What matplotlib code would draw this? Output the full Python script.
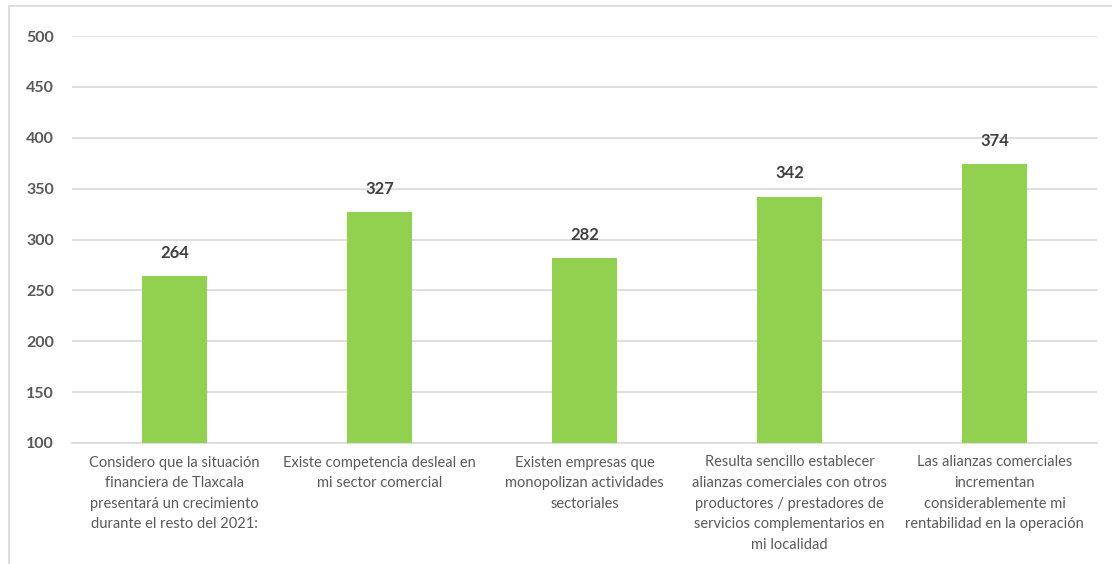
import matplotlib.pyplot as plt
from matplotlib.patches import Rectangle

categories = [
    "Considero que la situación\nfinanciera de Tlaxcala\npresentará un crecimiento\ndurante el resto del 2021:",
    "Existe competencia desleal en\nmi sector comercial",
    "Existen empresas que\nmonopolizan actividades\nsectoriales",
    "Resulta sencillo establecer\nalianzas comerciales con otros\nproductores / prestadores de\nservicios complementarios en\nmi localidad",
    "Las alianzas comerciales\nincrementan\nconsiderablemente mi\nrentabilidad en la operación",
]
values = [264, 327, 282, 342, 374]
yticks = [100, 150, 200, 250, 300, 350, 400, 450, 500]

plt.rcParams['font.family'] = ['Lato', 'DejaVu Sans']

fig = plt.figure(figsize=(11.12, 5.64), dpi=100)
ax = fig.add_axes([72 / 1112, 1 - 443 / 564, (1097 - 72) / 1112, (443 - 36) / 564])

x = range(len(values))
ax.bar(x, values, width=0.32, color='#92D050', zorder=3)
for i, v in zip(x, values):
    ax.annotate(str(v), (i, v), xytext=(0, 11), textcoords='offset points',
                ha='center', va='bottom', fontsize=12, fontweight='bold', color='#404040')

ax.set_ylim(100, 500)
ax.set_xlim(-0.5, len(values) - 0.5)
ax.set_yticks(yticks)
ax.set_yticklabels([str(t) for t in yticks], fontsize=11.5, fontweight='bold', color='#595959')
ax.set_xticks(list(x))
ax.set_xticklabels(categories, fontsize=10.5, color='#595959', linespacing=1.6, va='top')
ax.tick_params(axis='both', length=0)
ax.tick_params(axis='y', pad=13)
ax.tick_params(axis='x', pad=9)
ax.grid(axis='y', color='#D9D9D9', linewidth=1.2, zorder=0)
for s in ['top', 'right', 'left']:
    ax.spines[s].set_visible(False)
ax.spines['bottom'].set_color('#D9D9D9')
ax.spines['bottom'].set_linewidth(1.2)

# outer chart border
fig.patches.append(Rectangle((9 / 1112, -0.1), 1.1, 1 - 6 / 564 + 0.1, transform=fig.transFigure,
                             fill=False, edgecolor='#D9D9D9', linewidth=1.2))

fig.savefig('out.png', dpi=100)
